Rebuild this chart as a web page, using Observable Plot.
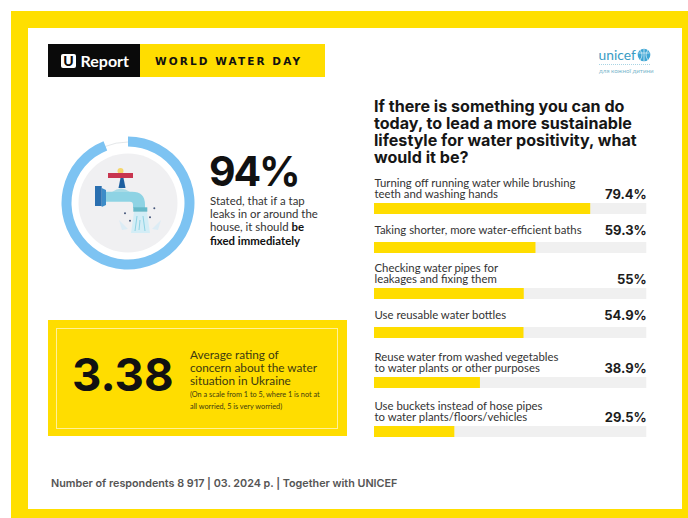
<!DOCTYPE html>
<html><head><meta charset="utf-8">
<script src="https://cdn.jsdelivr.net/npm/d3@7"></script>
<script src="https://cdn.jsdelivr.net/npm/@observablehq/plot@0.6"></script>
<style>
html,body{margin:0;padding:0;background:#fff;width:688px;height:518px;overflow:hidden}
#page{position:relative;width:688px;height:518px;overflow:hidden;font-family:Lato,sans-serif;color:#222}
#page>*{position:absolute}
.t{white-space:nowrap}
svg{display:block}
</style></head><body>
<div id="page">
  <div style="left:11px;top:11px;width:677px;height:507px;background:#FFDF00"></div>
  <div style="left:28px;top:28px;width:654px;height:481px;background:#fff"></div>

  <div style="left:48px;top:44px;width:277px;height:33px;background:#FFDD00"></div>
  <div style="left:48px;top:44px;width:92px;height:33px;background:#0a0a0a"></div>
  <div style="left:61px;top:53.5px;width:15px;height:14px;background:#fff;border-radius:2px;color:#0a0a0a;font:900 14px/14px Lato;text-align:center">U</div>
  <div class="t" style="left:80.5px;top:51px;color:#fff;font:700 16px/20px Lato">Report</div>
  <div class="t" style="left:155px;top:54px;color:#111;font:700 10.5px/14px 'DejaVu Sans';letter-spacing:2.1px">WORLD WATER DAY</div>

  <div class="t" style="left:598.5px;top:46px;color:#3a9cc4;font:400 13.8px/18px Lato">unicef</div>
  <div style="left:599px;top:64px;width:51px;height:0;border-top:1px dotted #a9d4e4"></div>
  <div class="t" style="left:599px;top:67px;color:#7bb6cc;font:400 6.2px/8px Lato">для кожної дитини</div>

  <div id="donut" style="left:57px;top:133px"></div>
  <svg style="left:0;top:0" width="688" height="518" viewBox="0 0 688 518" aria-hidden="true">
    <circle cx="644" cy="55" r="6.3" fill="#3fa6d4"/>
    <path d="M638.5 53h11M644 49v12M640 50q4 5 0 10M648 50q-4 5 0 10" stroke="#d6eef7" stroke-width=".8" fill="none"/>
    <path d="M134 212h13l3 21h-19z" fill="#d3edf6"/>
    <path d="M137 216l-2 15M143 216l2 15M140 220l-1 10" stroke="#8ed3e4" stroke-width="1" fill="none"/>
    <path d="M119 220l9 9-6 1zM161 220l-9 9 6 1z" fill="#dcecf5"/>
    <path d="M106 191.7h26q13 0 13 13V208h-12v-3q0-3.300-3-3.300H106z" fill="#8ed3e4"/>
    <path d="M112 192q9-7 18 0z" fill="#a9dbe6"/>
    <rect x="133.300" y="207.300" width="14" height="4.400" fill="#66b9c9"/>
    <path d="M101.700 188l4.300 2v15l-4.300 2z" fill="#3d8cc8"/>
    <rect x="95" y="186" width="6.700" height="20" fill="#2a6fb0"/>
    <path d="M118.500 188l2-10h3l2 10z" fill="#1d5fa0"/>
    <circle cx="120.500" cy="171" r="3" fill="#f5d66b"/>
    <rect x="108" y="173" width="25" height="5" fill="#c8354f"/>
    <g fill="#44557a"><circle cx="125" cy="213.300" r="1"/><circle cx="130" cy="220.700" r="1"/><circle cx="150" cy="217.300" r="1"/><circle cx="154.300" cy="208.300" r="1"/></g>
  </svg>

  <div class="t" style="left:209px;top:145px;color:#111;font:700 41px/52px Inter;letter-spacing:-2.2px" id="big94"></div>
  <div class="t" style="left:210px;top:194px;color:#333;font:400 11.4px/13.2px Lato">Stated, that if a tap<br>leaks in or around the<br>house, it should <b style="color:#111">be</b><br><b style="color:#111">fixed immediately</b></div>

  <div style="left:48px;top:320px;width:299px;height:116px;background:#FFDD00"></div>
  <div style="left:56px;top:327.500px;width:280px;height:99px;border:1px solid #fff09a"></div>
  <div class="t" style="left:72px;top:347px;color:#111;font:700 45.5px/56px Inter" id="bigAvg"></div>
  <div class="t" style="left:190px;top:347.500px;color:#3d3a10;font:400 11.8px/13px Lato">Average rating of<br>concern about the water<br>situation in Ukraine</div>
  <div class="t" style="left:190px;top:388.500px;color:#3d3a10;font:400 7.3px/12px Lato">(On a scale from 1 to 5, where 1 is not at<br>all worried, 5 is very worried)</div>

  <div class="t" style="left:374px;top:97.500px;color:#161616;font:700 16.1px/17.300px Inter">If there is something you can do<br>today, to lead a more sustainable<br>lifestyle for water positivity, what<br>would it be?</div>

  <div id="rows"></div>

  <div class="t" style="left:51px;top:475.500px;color:#555;font:600 10.77px/16px Inter">Number of respondents 8 917 | 03. 2024 p. | Together with UNICEF</div>
</div>
<script>
// ---- data ----
const categories = [
  "Turning off running water while brushing\nteeth and washing hands",
  "Taking shorter, more water-efficient baths",
  "Checking water pipes for\nleakages and fixing them",
  "Use reusable water bottles",
  "Reuse water from washed vegetables\nto water plants or other purposes",
  "Use buckets instead of hose pipes\nto water plants/floors/vehicles"
];
const shares = [79.4, 59.3, 55, 54.9, 38.9, 29.5];
const shareLabels = ["79.4%", "59.3%", "55%", "54.9%", "38.9%", "29.5%"];
const tapLeakShare = 94;
const averageRating = 3.38;

// ---- layout ----
const barTops = [203, 242, 288, 327, 376.7, 426];
const barH = 11, headRoom = 44, trackW = 272.3;
document.getElementById("big94").textContent = tapLeakShare + "%";
document.getElementById("bigAvg").textContent = averageRating;

const rowsHost = document.getElementById("rows");
rowsHost.style.cssText = "left:0;top:0;width:688px;height:518px";
categories.forEach((label, i) => {
  const lift = label.includes("\n") ? 0 : 2.5;
  const svg = Plot.plot({
    width: 274, height: headRoom + barH,
    marginTop: headRoom, marginBottom: 0, marginLeft: 0, marginRight: 0,
    style: {background: "transparent", overflow: "visible"},
    x: {domain: [0, 100], range: [0, trackW], axis: null},
    marks: [
      Plot.barX([100], {x: d => d, fill: "#f0f0f0"}),
      Plot.barX([shares[i]], {x: d => d, fill: "#FFDD00"}),
      Plot.text([label], {text: d => d, frameAnchor: "top-left", lineAnchor: "bottom", dy: -5.8 - lift,
        textAnchor: "start", fontFamily: "Lato", fontSize: 11.35, lineHeight: 0.92, fill: "#333"}),
      Plot.text([shareLabels[i]], {text: d => d, x: 100, frameAnchor: "top", lineAnchor: "bottom", dy: -5 - lift,
        textAnchor: "end", fontFamily: "Inter", fontWeight: 700, fontSize: 13, fill: "#1c1c1c"})
    ]
  });
  svg.style.position = "absolute";
  svg.style.left = "374px";
  svg.style.top = (barTops[i] - headRoom) + "px";
  rowsHost.appendChild(svg);
});

// ---- donut ----
const donutSize = 142, c = donutSize / 2;
const donut = Plot.plot({
  width: donutSize, height: donutSize, margin: 0,
  style: {background: "transparent"},
  marks: [
    () => {
      const angle = d3.scaleLinear().domain([0, 100]).range([0, 2 * Math.PI]);
      const g = d3.create("svg:g").attr("transform", `translate(${c},${c})`);
      g.append("circle").attr("r", 49.5).attr("fill", "#f0f0f2");
      g.append("circle").attr("r", 61).attr("fill", "none").attr("stroke", "#d9dde0").attr("stroke-width", 0.7);
      g.append("path")
        .attr("d", d3.arc()({innerRadius: 56.5, outerRadius: 66.5, startAngle: angle(0), endAngle: angle(tapLeakShare)}))
        .attr("fill", "#7DC3F2");
      return g.node();
    }
  ]
});
document.getElementById("donut").appendChild(donut);
document.getElementById("donut").style.left = (127.7 - c) + "px";
document.getElementById("donut").style.top = (203 - c) + "px";
</script>
</body></html>
